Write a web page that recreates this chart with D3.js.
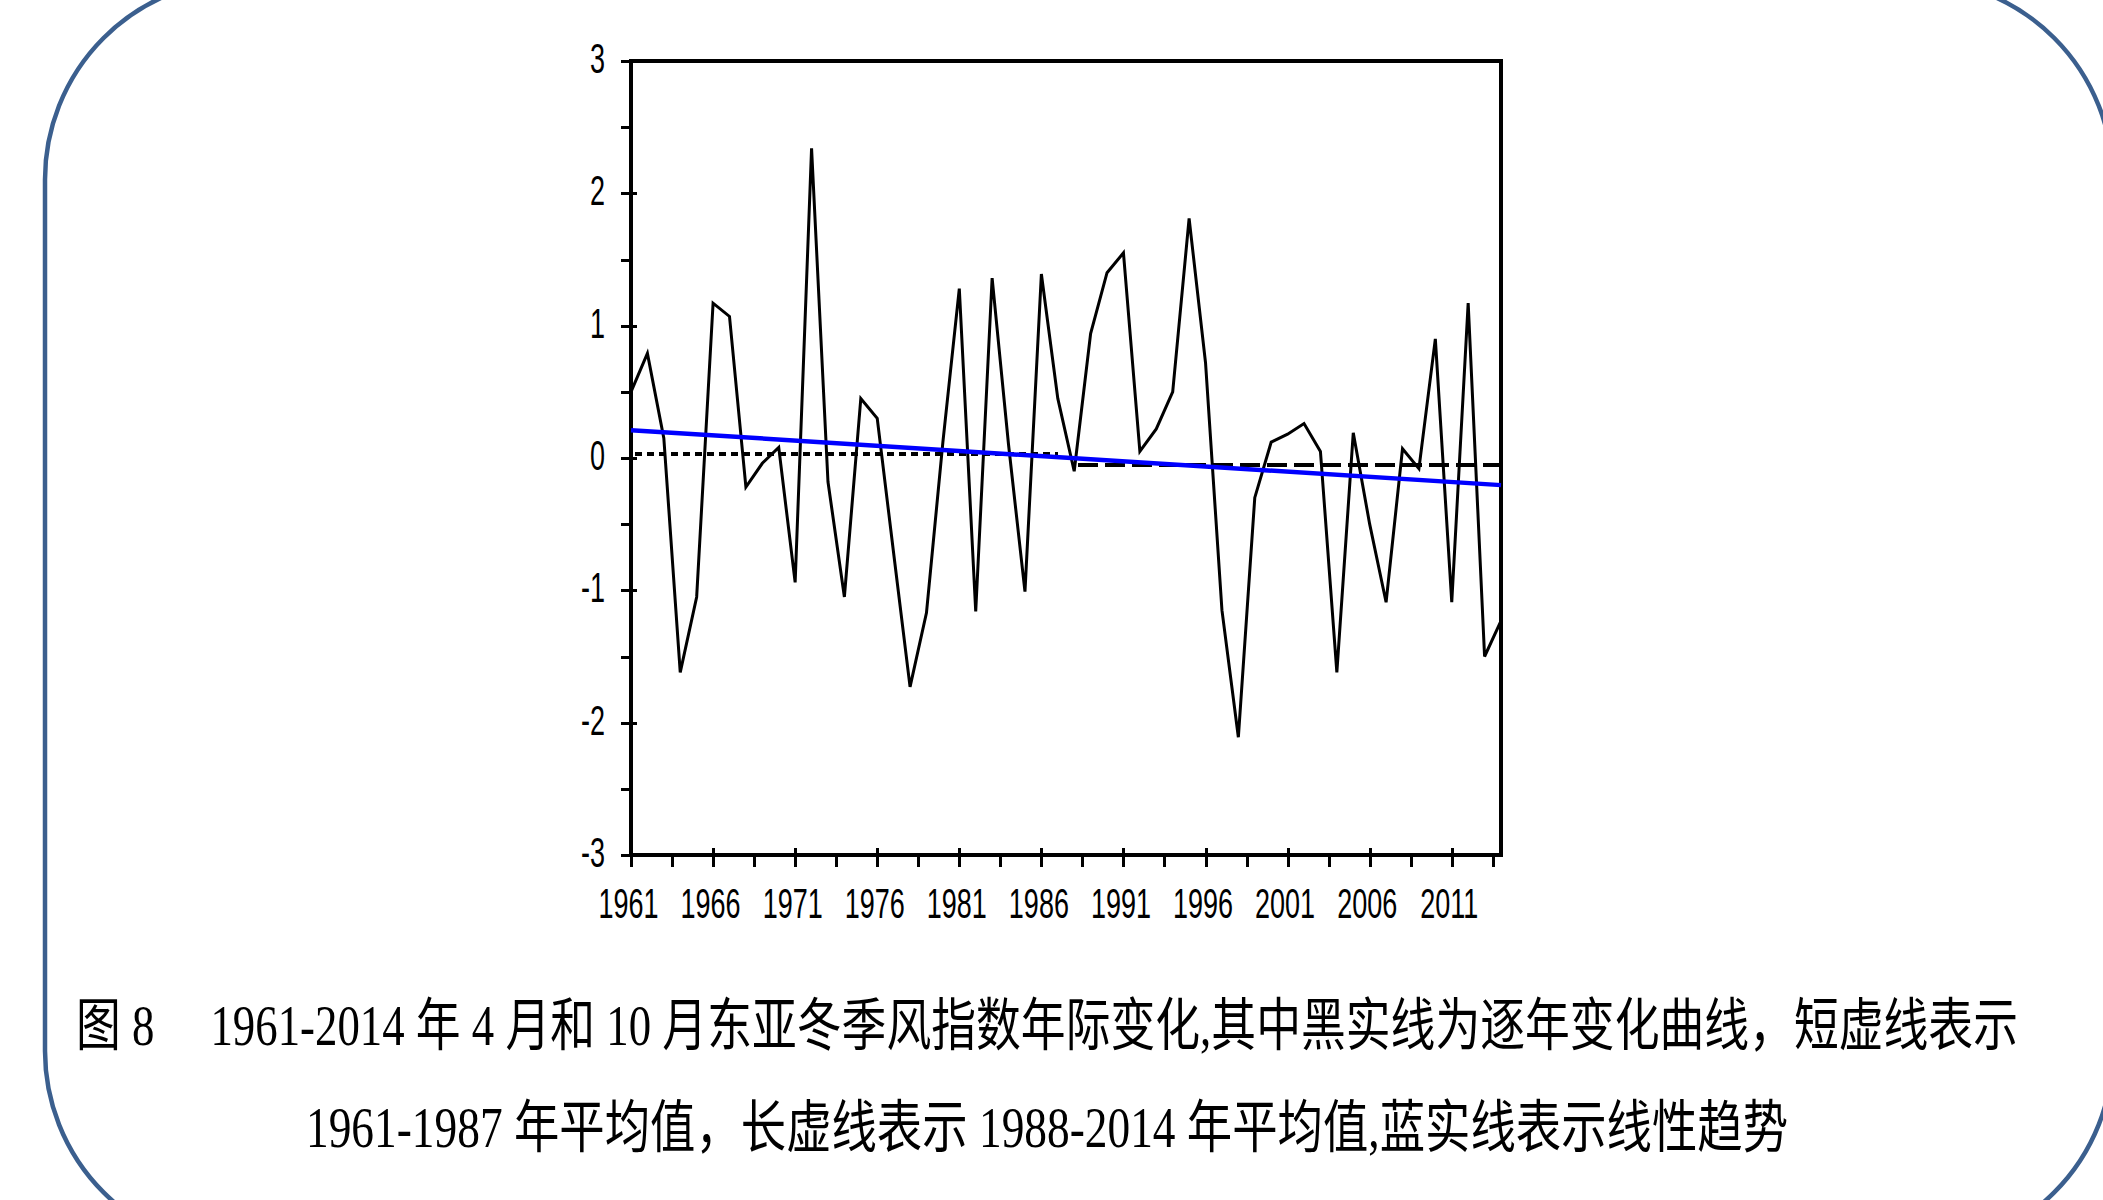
<!DOCTYPE html>
<html>
<head>
<meta charset="utf-8">
<script src="https://cdn.jsdelivr.net/npm/d3@7"></script>
<style>
  html, body { margin: 0; padding: 0; background: #ffffff; }
  svg { display: block; }
</style>
</head>
<body>
<svg id="chart" width="2103" height="1200"></svg>
<script>
// East Asian winter monsoon index (April & October), 1961-2014
const years = d3.range(1961, 2015);
const ewmIndex = [
  0.50, 0.79, 0.15, -1.62, -1.05, 1.17, 1.07, -0.22, -0.04, 0.08,   // 1961-1970
  -0.94, 2.34, -0.18, -1.05, 0.45, 0.30, -0.72, -1.73, -1.17, 0.12, // 1971-1980
  1.28, -1.16, 1.36, 0.10, -1.01, 1.39, 0.45, -0.10, 0.94, 1.40,    // 1981-1990
  1.55, 0.05, 0.22, 0.50, 1.81, 0.72, -1.15, -2.11, -0.30, 0.12,    // 1991-2000
  0.18, 0.26, 0.05, -1.62, 0.19, -0.50, -1.09, 0.07, -0.08, 0.90,   // 2001-2010
  -1.09, 1.17, -1.50, -1.23                                          // 2011-2014
];

// period means (short dash: 1961-1987, long dash: 1988-2014)
const meanSpans = [[1961, 1987], [1988, 2014]];
const meanValues = [0.03, -0.05];

// linear trend end points
const trendYears = [1961, 2014];
const trendValues = [0.21, -0.205];

// axis ticks
const yearTicks = [1961, 1966, 1971, 1976, 1981, 1986, 1991, 1996, 2001, 2006, 2011];
const yearMinorTicks = [1963.5, 1968.5, 1973.5, 1978.5, 1983.5, 1988.5, 1993.5, 1998.5, 2003.5, 2008.5, 2013.5];
const valueTicks = [-3, -2, -1, 0, 1, 2, 3];
const valueMinorTicks = [-2.5, -1.5, -0.5, 0.5, 1.5, 2.5];

const captionLines = [
  "图 8　 1961-2014 年 4 月和 10 月东亚冬季风指数年际变化,其中黑实线为逐年变化曲线，短虚线表示",
  "1961-1987 年平均值，长虚线表示 1988-2014 年平均值,蓝实线表示线性趋势"
];

// ---- layout ----
const plot = { left: 631, right: 1501, top: 61, bottom: 855 };
const svg = d3.select("#chart");

// rounded frame around the figure
svg.append("rect")
  .attr("x", 45).attr("y", -20.6)
  .attr("width", 2067.8).attr("height", 1271.6)
  .attr("rx", 200).attr("ry", 200)
  .attr("fill", "none")
  .attr("stroke", "#3b5f8e")
  .attr("stroke-width", 4.5);

const x = d3.scaleLinear().domain([1961, 2014]).range([plot.left, plot.right]);
const y = d3.scaleLinear().domain([-3, 3]).range([plot.bottom, plot.top]);

const labelFont = "'Liberation Sans', Arial, sans-serif";

// ---- x axis ----
const gxMinor = svg.append("g").attr("transform", `translate(0,${plot.bottom})`)
  .call(d3.axisBottom(x).tickValues(yearMinorTicks).tickSize(12).tickFormat(""));
gxMinor.select(".domain").remove();
gxMinor.selectAll(".tick line").attr("stroke", "#000").attr("stroke-width", 3)
  .attr("shape-rendering", "crispEdges");

const gx = svg.append("g").attr("transform", `translate(0,${plot.bottom})`)
  .call(d3.axisBottom(x).tickValues(yearTicks).tickSize(12).tickFormat(d => String(d)));
gx.select(".domain").remove();
gx.attr("font-size", 27).attr("font-family", labelFont);
gx.selectAll(".tick line").attr("y1", -7).attr("stroke", "#000").attr("stroke-width", 3)
  .attr("shape-rendering", "crispEdges");
gx.selectAll(".tick text")
  .attr("y", null).attr("dy", null)
  .attr("fill", "#000")
  .attr("transform", "translate(-3,63) scale(1,1.55)");

// ---- y axis ----
const gyMinor = svg.append("g").attr("transform", `translate(${plot.left},0)`)
  .call(d3.axisLeft(y).tickValues(valueMinorTicks).tickSize(10).tickFormat(""));
gyMinor.select(".domain").remove();
gyMinor.selectAll(".tick line").attr("stroke", "#000").attr("stroke-width", 3)
  .attr("shape-rendering", "crispEdges");

const gy = svg.append("g").attr("transform", `translate(${plot.left},0)`)
  .call(d3.axisLeft(y).tickValues(valueTicks).tickSize(10).tickFormat(d => String(d)));
gy.select(".domain").remove();
gy.attr("font-size", 27).attr("font-family", labelFont);
gy.selectAll(".tick line").attr("x1", 6).attr("stroke", "#000").attr("stroke-width", 3)
  .attr("shape-rendering", "crispEdges");
gy.selectAll(".tick text")
  .attr("x", null).attr("dy", null)
  .attr("fill", "#000")
  .attr("transform", "translate(-26,11.5) scale(1,1.55)");

// ---- plot frame ----
svg.append("rect")
  .attr("x", plot.left).attr("y", plot.top)
  .attr("width", plot.right - plot.left).attr("height", plot.bottom - plot.top)
  .attr("fill", "none").attr("stroke", "#000").attr("stroke-width", 4)
  .attr("shape-rendering", "crispEdges");

// ---- period means ----
const meanStyles = [
  { dash: "7,5", width: 3.5 },
  { dash: "20,7", width: 4 }
];
meanSpans.forEach((span, i) => {
  svg.append("line")
    .attr("x1", x(span[0]) + 4).attr("x2", x(span[1]))
    .attr("y1", y(meanValues[i])).attr("y2", y(meanValues[i]))
    .attr("stroke", "#000")
    .attr("stroke-width", meanStyles[i].width)
    .attr("stroke-dasharray", meanStyles[i].dash)
    .attr("shape-rendering", "crispEdges");
});

// ---- yearly index curve ----
const series = years.map((yr, i) => ({ year: yr, value: ewmIndex[i] }));
svg.append("path")
  .datum(series)
  .attr("fill", "none")
  .attr("stroke", "#000")
  .attr("stroke-width", 3)
  .attr("stroke-linejoin", "miter")
  .attr("d", d3.line().x(d => x(d.year)).y(d => y(d.value)));

// ---- linear trend ----
svg.append("path")
  .datum(trendYears.map((yr, i) => ({ year: yr, value: trendValues[i] })))
  .attr("fill", "none")
  .attr("stroke", "#0000ff")
  .attr("stroke-width", 4.5)
  .attr("d", d3.line().x(d => x(d.year)).y(d => y(d.value)));

// ---- caption ----
const captionFont = "'Liberation Serif', 'Times New Roman', 'Noto Sans CJK SC', serif";
const captionLayout = [
  { x: 76, base: 1045, len: 1942 },
  { x: 306, base: 1147, len: 1482 }
];
captionLines.forEach((line, i) => {
  svg.append("text")
    .attr("transform", `translate(${captionLayout[i].x},${captionLayout[i].base}) scale(1,1.27)`)
    .attr("font-family", captionFont)
    .attr("font-size", 45)
    .attr("fill", "#000")
    .attr("textLength", captionLayout[i].len)
    .attr("lengthAdjust", "spacingAndGlyphs")
    .text(line);
});
</script>
</body>
</html>
